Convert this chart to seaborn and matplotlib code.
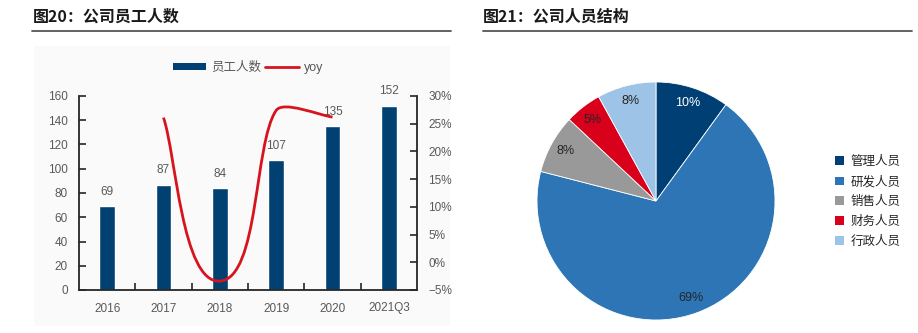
import numpy as np
import pandas as pd
import matplotlib
matplotlib.use('Agg')
import matplotlib.pyplot as plt
import seaborn as sns
from matplotlib.path import Path
from matplotlib.patches import PathPatch, Rectangle, Patch
from matplotlib.lines import Line2D
from matplotlib.ticker import FuncFormatter

sns.set_theme(style='white')
plt.rcParams['font.family'] = ['Liberation Sans', 'Noto Sans CJK SC', 'DejaVu Sans']
plt.rcParams['axes.unicode_minus'] = True

# ---------------- data ----------------
years = ['2016', '2017', '2018', '2019', '2020', '2021Q3']
staff = [69, 87, 84, 107, 135, 152]
yoy = [np.nan, 26.1, -3.4, 27.4, 26.2, np.nan]   # percent

roles = ['管理人员', '研发人员', '销售人员', '财务人员', '行政人员']
shares = [10, 69, 8, 5, 8]

# ---------------- style ----------------
bar_color = '#004172'
line_color = '#d7141e'
role_colors = ['#003f74', '#2e75b6', '#999999', '#d9001b', '#9dc3e6']
text_gray = '#595959'
dark = '#262626'

W, H = 918, 333
fig = plt.figure(figsize=(W / 100, H / 100), dpi=100)


def fx(x):
    return x / W


def fy(y):
    return 1 - y / H


# light panel behind left chart
fig.patches.append(Rectangle((fx(34), fy(326)), fx(450) - fx(34), fy(46) - fy(326),
                             transform=fig.transFigure, facecolor='#fafafa',
                             edgecolor='none', zorder=-10))

# titles + underlines
title_kw = dict(fontsize=11.5, family=['Noto Sans CJK SC'], va='center', ha='left',
                color='#1a1a1a', fontweight='bold')
fig.text(fx(33), fy(17), '图20：公司员工人数', **title_kw)
fig.text(fx(483), fy(17), '图21：公司人员结构', **title_kw)
fig.lines.append(Line2D([fx(32), fx(451)], [fy(31), fy(31)], transform=fig.transFigure,
                        color='#555555', lw=1.3))
fig.lines.append(Line2D([fx(483), fx(912)], [fy(30.5), fy(30.5)], transform=fig.transFigure,
                        color='#555555', lw=1.3))

# ---------------- left: bars + yoy ----------------
ax = fig.add_axes([fx(79), fy(290), fx(417) - fx(79), fy(96) - fy(290)])
ax.set_facecolor('none')
df = pd.DataFrame({'year': years, 'staff': staff})
sns.barplot(data=df, x='year', y='staff', ax=ax, color=bar_color, width=0.28,
            saturation=1, zorder=2)
ax.set_xlim(-0.5, len(years) - 0.5)
ax.set_ylim(0, 160)
ax.set_yticks(np.arange(0, 161, 20))
ax.set_xlabel('')
ax.set_ylabel('')
ax.bar_label(ax.containers[0], labels=[str(v) for v in staff], padding=6,
             fontsize=8.5, color=text_gray)

for s in ['top', 'right']:
    ax.spines[s].set_visible(False)
for s in ['left', 'bottom']:
    ax.spines[s].set_color(dark)
    ax.spines[s].set_linewidth(1.3)
ax.tick_params(axis='y', direction='in', length=5, width=1.2, color=dark,
               labelsize=8.5, labelcolor=text_gray, pad=8, left=True)
ax.tick_params(axis='x', which='major', length=0, labelsize=8.5, labelcolor=text_gray, pad=9)
ax.set_xticks(np.arange(0.5, len(years) - 1, 1.0), minor=True)
ax.tick_params(axis='x', which='minor', direction='in', length=5, width=1.2, color=dark,
               bottom=True)

ax2 = ax.twinx()
ax2.set_ylim(-5, 30)
ax2.set_yticks(np.arange(-5, 31, 5))
ax2.yaxis.set_major_formatter(FuncFormatter(lambda v, p: f'{v:.0f}%'.replace('-', '\u2212')))
for s in ['top', 'left', 'bottom']:
    ax2.spines[s].set_visible(False)
ax2.spines['right'].set_color(dark)
ax2.spines['right'].set_linewidth(1.3)
ax2.tick_params(axis='y', direction='in', length=5, width=1.2, color=dark,
                labelsize=8.5, labelcolor=text_gray, pad=8, right=True)
ax2.grid(False)
ax.grid(False)

# smoothed yoy line (Bezier through data points, computed in display space)
xs = np.array([i for i, v in enumerate(yoy) if not np.isnan(v)], float)
ys = np.array([v for v in yoy if not np.isnan(v)], float)
pts = ax2.transData.transform(np.column_stack([xs, ys]))
n = len(pts)
tension = 0.22
verts = [pts[0]]
codes = [Path.MOVETO]
for i in range(n - 1):
    p0 = pts[i - 1] if i > 0 else pts[i]
    p1 = pts[i]
    p2 = pts[i + 1]
    p3 = pts[i + 2] if i + 2 < n else pts[i + 1]
    seg = np.hypot(*(p2 - p1))
    d1 = p2 - p0
    d1 = d1 / np.hypot(*d1)
    d2 = p3 - p1
    d2 = d2 / np.hypot(*d2)
    verts += [p1 + d1 * seg * tension, p2 - d2 * seg * tension, p2]
    codes += [Path.CURVE4] * 3
verts = ax2.transData.inverted().transform(np.array(verts))
ax2.add_patch(PathPatch(Path(verts, codes), fill=False, edgecolor=line_color, lw=2,
                        zorder=3))

fig.legend(handles=[Patch(facecolor=bar_color, edgecolor='none'),
                    Line2D([], [], color=line_color, lw=2)],
           labels=['员工人数', 'yoy'], loc='center', bbox_to_anchor=(fx(248), fy(68)),
           ncol=2, frameon=False, fontsize=9, handlelength=2.7, handleheight=0.45,
           handletextpad=0.4, columnspacing=0.3, labelcolor=text_gray)

# ---------------- right: pie ----------------
R = 119
pax = fig.add_axes([fx(656 - R - 1), fy(201 + R + 1), (2 * R + 2) / W, (2 * R + 2) / H])
wedges, texts, autotexts = pax.pie(
    shares, colors=role_colors, startangle=90, counterclock=False,
    autopct=lambda p: f'{p:.0f}%', pctdistance=0.865,
    wedgeprops=dict(edgecolor='white', linewidth=0.6),
    textprops=dict(fontsize=9, color=dark))
autotexts[0].set_color('white')
lim = (R + 1) / R
pax.set_xlim(-lim, lim)
pax.set_ylim(-lim, lim)
pax.set_aspect('equal')

fig.legend(handles=[Patch(facecolor=c, edgecolor='none') for c in role_colors],
           labels=roles, loc='center left', bbox_to_anchor=(fx(824), fy(202)),
           frameon=False, fontsize=9, handlelength=0.7, handleheight=0.7,
           handletextpad=0.5, labelspacing=0.62, labelcolor=dark)

fig.savefig('out.png', dpi=100)
